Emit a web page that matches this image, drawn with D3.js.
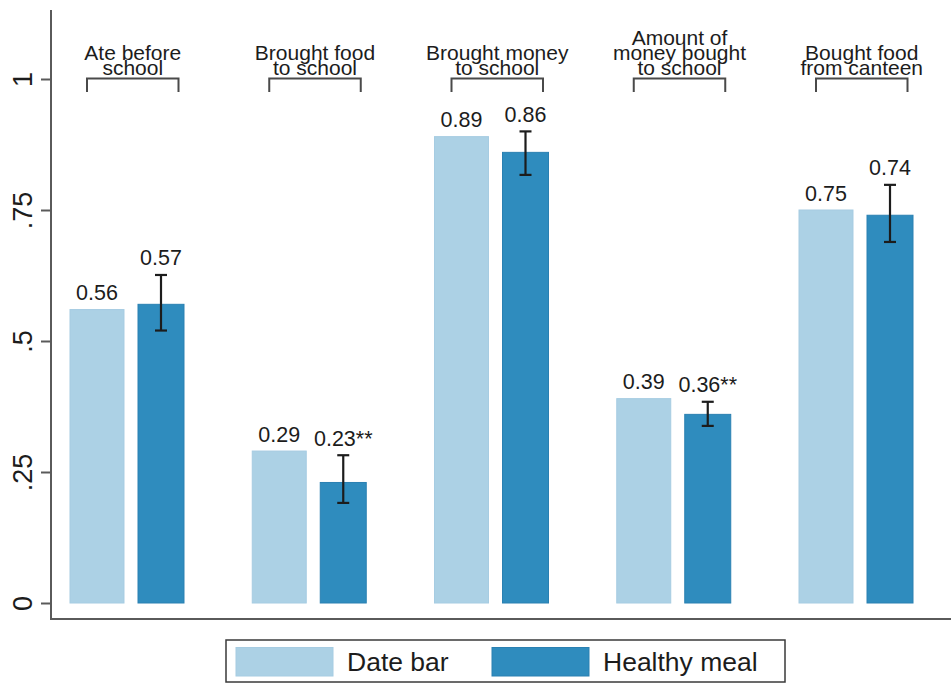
<!DOCTYPE html>
<html>
<head>
<meta charset="utf-8">
<script src="https://cdn.jsdelivr.net/npm/d3@7"></script>
<style>
  html, body { margin: 0; padding: 0; background: #fff; }
  svg { display: block; font-family: "Liberation Sans", Arial, sans-serif; }
</style>
</head>
<body>
<svg id="chart" width="951" height="684"></svg>
<script>
// Outcome groups (multi-line headers) and the two arms being compared
const categories = [
  "Ate before\nschool",
  "Brought food\nto school",
  "Brought money\nto school",
  "Amount of\nmoney bought\nto school",
  "Bought food\nfrom canteen"
];
const seriesNames = ["Date bar", "Healthy meal"];
const dateBar     = [0.56, 0.29, 0.89, 0.39, 0.75];
const healthyMeal = [0.57, 0.23, 0.86, 0.36, 0.74];
const healthyLow  = [0.520, 0.191, 0.817, 0.338, 0.689];
const healthyHigh = [0.626, 0.282, 0.900, 0.384, 0.798];
const significance = ["", "**", "", "**", ""];
const yTicks = [0, 0.25, 0.5, 0.75, 1];
const yTickLabels = ["0", ".25", ".5", ".75", "1"];

const colors = { "Date bar": "#acd1e5", "Healthy meal": "#2f8cbe" };
const strokes = { "Date bar": "#a6cce2", "Healthy meal": "#2a80b2" };
const ink = "#1c1c1c";

const svg = d3.select("#chart");

const y = d3.scaleLinear().domain([0, 1]).range([603, 79]);
const x = d3.scaleBand().domain(categories).range([70, 913]).paddingInner(0.3745).paddingOuter(0);
// the second arm is drawn a little narrower than the first
const widthTrim = { "Date bar": 0, "Healthy meal": 8 };
const xs = d3.scaleBand().domain(seriesNames).range([0, x.bandwidth() + widthTrim["Healthy meal"]])
  .paddingInner(0.206).paddingOuter(0);
const barW = s => xs.bandwidth() - widthTrim[s];
const barMid = s => xs(s) + barW(s) / 2;

const rows = categories.map((c, i) => ({
  cat: c,
  vals: [
    { s: "Date bar", v: dateBar[i], label: d3.format(".2f")(dateBar[i]) },
    { s: "Healthy meal", v: healthyMeal[i], lo: healthyLow[i], hi: healthyHigh[i],
      label: d3.format(".2f")(healthyMeal[i]) + significance[i] }
  ]
}));

// axis frame
const frame = svg.append("g");
frame.append("line").attr("x1", 51).attr("x2", 51).attr("y1", 10).attr("y2", 620)
  .attr("stroke", "#5a5a5a").attr("stroke-width", 2);
frame.append("line").attr("x1", 50).attr("x2", 951).attr("y1", 619).attr("y2", 619)
  .attr("stroke", "#5a5a5a").attr("stroke-width", 2.2);

// y axis ticks and rotated labels
const yAxis = svg.append("g").attr("transform", "translate(51,0)")
  .call(d3.axisLeft(y).tickValues(yTicks).tickSize(10).tickFormat((d, i) => yTickLabels[i]));
yAxis.select(".domain").remove();
yAxis.selectAll(".tick line").attr("stroke", "#5a5a5a").attr("stroke-width", 2);
yAxis.selectAll(".tick text")
  .attr("x", null).attr("dy", null)
  .attr("transform", "translate(-19,0) rotate(-90)")
  .attr("text-anchor", "middle")
  .attr("font-size", 27)
  .attr("fill", ink);

// bars
const groups = svg.append("g").selectAll("g").data(rows).join("g")
  .attr("transform", d => `translate(${x(d.cat)},0)`);

groups.selectAll("rect").data(d => d.vals).join("rect")
  .attr("x", d => xs(d.s))
  .attr("width", d => barW(d.s))
  .attr("y", d => y(d.v))
  .attr("height", d => y(0) - y(d.v))
  .attr("fill", d => colors[d.s])
  .attr("stroke", d => strokes[d.s])
  .attr("stroke-width", 1);

// confidence intervals
const ci = groups.selectAll("g.ci").data(d => d.vals.filter(v => v.lo != null)).join("g")
  .attr("class", "ci")
  .attr("transform", d => `translate(${barMid(d.s)},0)`);
ci.append("line").attr("y1", d => y(d.lo)).attr("y2", d => y(d.hi))
  .attr("stroke", ink).attr("stroke-width", 2.2);
ci.selectAll("line.cap").data(d => [d.lo, d.hi]).join("line").attr("class", "cap")
  .attr("x1", -6).attr("x2", 6).attr("y1", v => y(v)).attr("y2", v => y(v))
  .attr("stroke", ink).attr("stroke-width", 2.2);

// value labels
groups.selectAll("text.val").data(d => d.vals).join("text")
  .attr("class", "val")
  .attr("x", d => barMid(d.s))
  .attr("y", d => y(d.hi != null ? d.hi : d.v) - 9.5)
  .attr("text-anchor", "middle")
  .attr("font-size", 21.5)
  .attr("fill", ink)
  .text(d => d.label);

// group headers with brackets
const head = groups.append("g").attr("class", "head");
const bL = 17, bR = 108.5, bY = 78.5;
head.append("path")
  .attr("d", `M${bL},${bY + 13.5}V${bY}H${bR}V${bY + 13.5}`)
  .attr("fill", "none").attr("stroke", "#4a4a4a").attr("stroke-width", 2);
head.each(function (d) {
  const lines = d.cat.split("\n");
  const t = d3.select(this).append("text")
    .attr("text-anchor", "middle")
    .attr("font-size", 21)
    .attr("fill", ink);
  lines.forEach((ln, k) => {
    t.append("tspan")
      .attr("x", (bL + bR) / 2)
      .attr("y", 74.5 - (lines.length - 1 - k) * 15)
      .text(ln);
  });
});

// legend
const legend = svg.append("g");
legend.append("rect").attr("x", 226).attr("y", 640).attr("width", 559).attr("height", 42)
  .attr("fill", "#fff").attr("stroke", "#3a3a3a").attr("stroke-width", 1.5);
const legendX = { "Date bar": 236, "Healthy meal": 492 };
const li = legend.selectAll("g.item").data(seriesNames).join("g").attr("class", "item")
  .attr("transform", d => `translate(${legendX[d]},0)`);
li.append("rect").attr("x", 0).attr("y", 647.5).attr("width", 97).attr("height", 28.5)
  .attr("fill", d => colors[d]).attr("stroke", d => strokes[d]).attr("stroke-width", 1);
li.append("text").attr("x", 111).attr("y", 670.5)
  .attr("font-size", 26.5).attr("fill", ink)
  .text(d => d);
</script>
</body>
</html>
